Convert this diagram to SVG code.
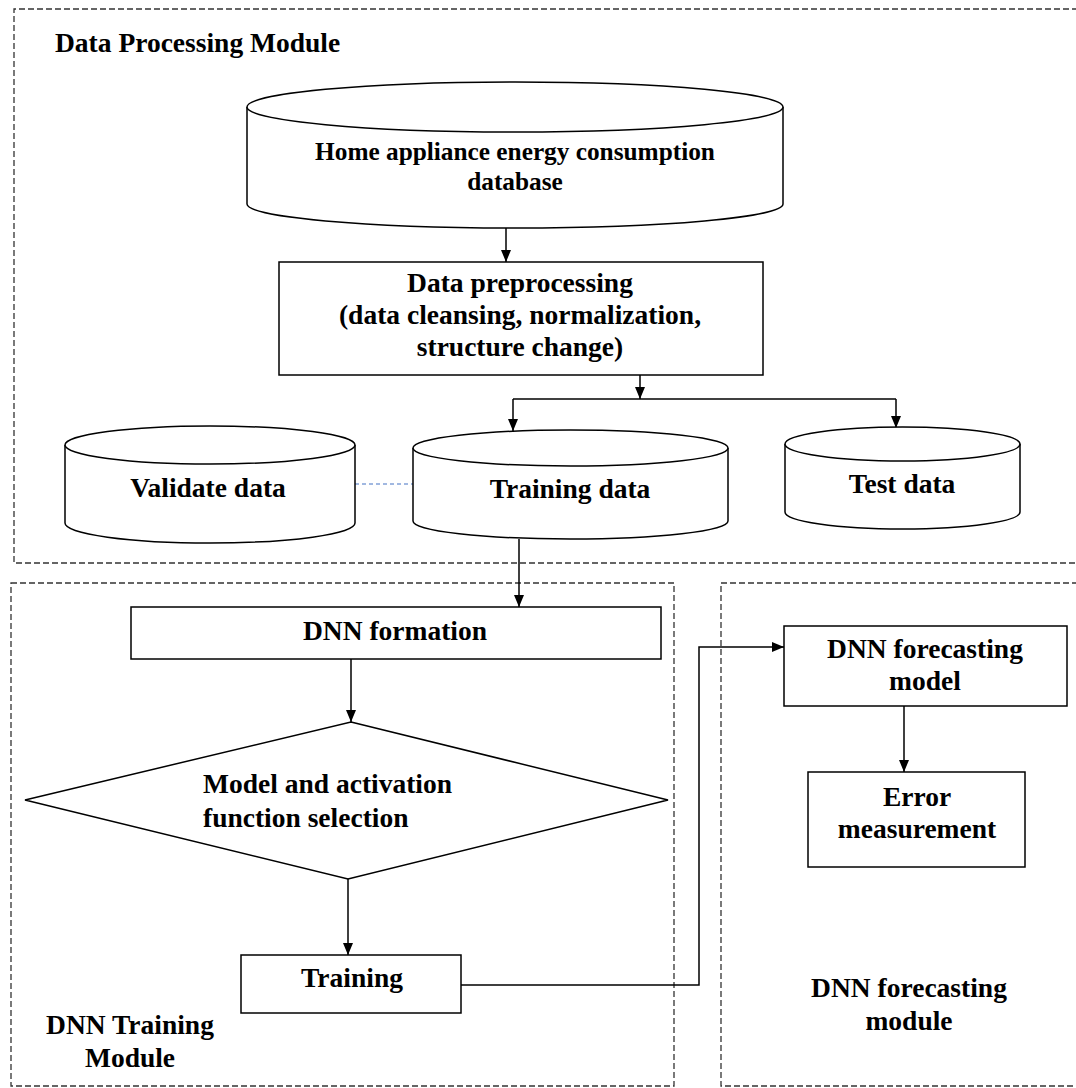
<svg xmlns="http://www.w3.org/2000/svg" width="1076" height="1088" viewBox="0 0 1076 1088">
  <style>
    .t { font-family: "Liberation Serif", "Times New Roman", serif; font-weight: bold; font-size: 27.5px; fill: #000; text-anchor: middle; }
    .tl { text-anchor: start; }
    .ts { font-size: 25.3px; }
    .shape { fill: #fff; stroke: #000; stroke-width: 1.5; }
    .frame { fill: none; stroke: #333; stroke-width: 1.3; stroke-dasharray: 6 3; }
    .conn { fill: none; stroke: #000; stroke-width: 1.5; }
    .blue { fill: none; stroke: #4472c4; stroke-width: 1.2; stroke-dasharray: 4 3; }
  </style>
  <defs>
    <marker id="arrow" markerUnits="userSpaceOnUse" markerWidth="12" markerHeight="12" viewBox="0 0 12 12" refX="12" refY="6" orient="auto">
      <path d="M0,1 L12,6 L0,11 z" fill="#000"/>
    </marker>
  </defs>

  <g id="frames">
    <path id="frame-data-processing" class="frame" d="M1078,9 H14 V563 H1078"/>
    <rect id="frame-dnn-training" class="frame" x="11" y="583" width="663" height="503"/>
    <path id="frame-dnn-forecasting" class="frame" d="M1078,583 H721 V1086 H1078"/>
  </g>

  <g id="labels">
    <text class="t tl" x="55" y="52">Data Processing Module</text>
    <text class="t" x="130" y="1034">DNN Training</text>
    <text class="t" x="130" y="1067">Module</text>
    <text class="t" x="909" y="997">DNN forecasting</text>
    <text class="t" x="909" y="1030">module</text>
  </g>

  <g id="connectors">
    <line class="conn" x1="506" y1="228" x2="506" y2="262" marker-end="url(#arrow)"/>
    <line class="conn" x1="640" y1="375" x2="640" y2="399" marker-end="url(#arrow)"/>
    <line class="conn" x1="513" y1="399" x2="896" y2="399"/>
    <line class="conn" x1="513" y1="399" x2="513" y2="431" marker-end="url(#arrow)"/>
    <line class="conn" x1="896" y1="399" x2="896" y2="428" marker-end="url(#arrow)"/>
    <line class="blue" x1="355" y1="484" x2="413" y2="484"/>
    <line class="conn" x1="519" y1="539" x2="519" y2="607" marker-end="url(#arrow)"/>
    <line class="conn" x1="351" y1="659" x2="351" y2="722" marker-end="url(#arrow)"/>
    <line class="conn" x1="348" y1="879" x2="348" y2="955" marker-end="url(#arrow)"/>
    <path class="conn" d="M461,985 H699 V647 H784" marker-end="url(#arrow)"/>
    <line class="conn" x1="904" y1="706" x2="904" y2="772" marker-end="url(#arrow)"/>
  </g>

  <g id="node-home-db">
    <path class="shape" d="M247,107 V204 A268,24 0 0 0 783,204 V107"/>
    <ellipse class="shape" cx="515" cy="107" rx="268" ry="25"/>
    <text class="t ts" x="515" y="160">Home appliance energy consumption</text>
    <text class="t ts" x="515" y="190">database</text>
  </g>

  <g id="node-preprocessing">
    <rect class="shape" x="279" y="262" width="484" height="113"/>
    <text class="t" x="520" y="292">Data preprocessing</text>
    <text class="t" x="520" y="324">(data cleansing, normalization,</text>
    <text class="t" x="520" y="356">structure change)</text>
  </g>

  <g id="node-validate">
    <path class="shape" d="M65,445 V523 A145,20 0 0 0 355,523 V445"/>
    <ellipse class="shape" cx="210" cy="445" rx="145" ry="19"/>
    <text class="t" x="208" y="497">Validate data</text>
  </g>

  <g id="node-training-data">
    <path class="shape" d="M413,448 V521 A157.5,18 0 0 0 728,521 V448"/>
    <ellipse class="shape" cx="570.5" cy="448" rx="157.5" ry="18"/>
    <text class="t" x="570" y="498">Training data</text>
  </g>

  <g id="node-test-data">
    <path class="shape" d="M785,444 V512 A117.5,17 0 0 0 1020,512 V444"/>
    <ellipse class="shape" cx="902.5" cy="444" rx="117.5" ry="17"/>
    <text class="t" x="902" y="493">Test data</text>
  </g>

  <g id="node-dnn-formation">
    <rect class="shape" x="131" y="607" width="530" height="52"/>
    <text class="t" x="395" y="640">DNN formation</text>
  </g>

  <g id="node-model-selection">
    <polygon class="shape" points="351,722 668,800 348,879 25,800"/>
    <text class="t tl" x="203" y="793">Model and activation</text>
    <text class="t tl" x="203" y="827">function selection</text>
  </g>

  <g id="node-training">
    <rect class="shape" x="241" y="955" width="220" height="58"/>
    <text class="t" x="352" y="987">Training</text>
  </g>

  <g id="node-forecasting-model">
    <rect class="shape" x="784" y="626" width="283" height="80"/>
    <text class="t" x="925" y="658">DNN forecasting</text>
    <text class="t" x="925" y="690">model</text>
  </g>

  <g id="node-error">
    <rect class="shape" x="808" y="772" width="217" height="95"/>
    <text class="t" x="917" y="806">Error</text>
    <text class="t" x="917" y="838">measurement</text>
  </g>
</svg>
